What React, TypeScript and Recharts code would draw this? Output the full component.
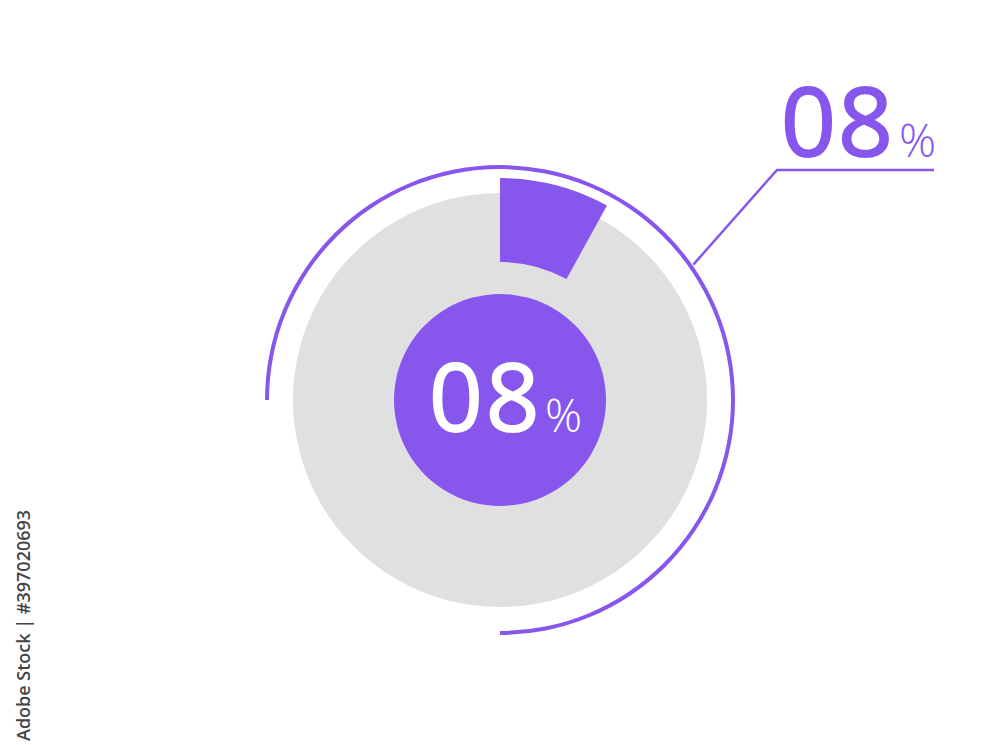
import { PieChart, Pie, Cell, Customized } from "recharts";

const share = [
  { name: "value", value: 8 },
  { name: "rest", value: 92 },
];
const base = [{ name: "base", value: 100 }];
const ring = [{ name: "ring", value: 75 }];
const label = "08";
const purple = "#8656ED";
const grey = "#E0E0E0";

const CX = 500;
const CY = 400;

function Callout() {
  const a = (35 * Math.PI) / 180;
  const r = 236;
  const x1 = CX + r * Math.cos(a);
  const y1 = CY - r * Math.sin(a);
  const x2 = 777;
  const y2 = 170;
  return (
    <g>
      <polyline points={`${x1},${y1} ${x2},${y2} 934,${y2}`} fill="none" stroke={purple} strokeWidth={2.5} />
      <text
        x={781}
        y={156}
        fill={purple}
        stroke={purple}
        strokeWidth={2}
        fontFamily="Open Sans"
        fontWeight={500}
        fontSize={96}
        letterSpacing={2}
      >
        {label}
      </text>
      <text x={899} y={157} fill={purple} fontFamily="Open Sans" fontWeight={300} fontSize={46}>
        %
      </text>
      <text
        x={0}
        y={0}
        transform="translate(30,741) rotate(-90)"
        fill="#444"
        fontFamily="Open Sans"
        fontWeight={600}
        fontSize={18}
      >
        Adobe Stock | #397020693
      </text>
    </g>
  );
}

function CenterLabel({ cx, cy }: { cx: number; cy: number }) {
  return (
    <g>
      <text
        x={cx - 71}
        y={cy + 31}
        fill="#fff"
        stroke="#fff"
        strokeWidth={1.8}
        fontFamily="Open Sans"
        fontWeight={500}
        fontSize={94}
        letterSpacing={3}
      >
        {label}
      </text>
      <text x={cx + 45} y={cy + 32} fill="#fff" fontFamily="Open Sans" fontWeight={300} fontSize={46}>
        %
      </text>
    </g>
  );
}

export default function App() {
  return (
    <div style={{ position: "absolute", left: 0, top: 0, background: "#fff" }}>
      <PieChart width={1000} height={745} margin={{ top: 0, right: 0, bottom: 0, left: 0 }}>
        <Pie data={base} dataKey="value" cx={CX} cy={CY} outerRadius={207} stroke="none" isAnimationActive={false}>
          <Cell fill={grey} />
        </Pie>
        <Pie
          data={share}
          dataKey="value"
          cx={CX}
          cy={CY}
          startAngle={90}
          endAngle={-270}
          innerRadius={138}
          outerRadius={222}
          stroke="none"
          isAnimationActive={false}
        >
          <Cell fill={purple} />
          <Cell fill="transparent" />
        </Pie>
        <Pie
          data={ring}
          dataKey="value"
          cx={CX}
          cy={CY}
          startAngle={180}
          endAngle={-90}
          innerRadius={231}
          outerRadius={235}
          stroke="none"
          isAnimationActive={false}
        >
          <Cell fill={purple} />
        </Pie>
        <Pie
          data={base}
          dataKey="value"
          cx={CX}
          cy={CY}
          outerRadius={106}
          stroke="none"
          isAnimationActive={false}
          labelLine={false}
          label={(p: any) => <CenterLabel cx={p.cx} cy={p.cy} />}
        >
          <Cell fill={purple} />
        </Pie>
        <Customized component={Callout} />
      </PieChart>
    </div>
  );
}
